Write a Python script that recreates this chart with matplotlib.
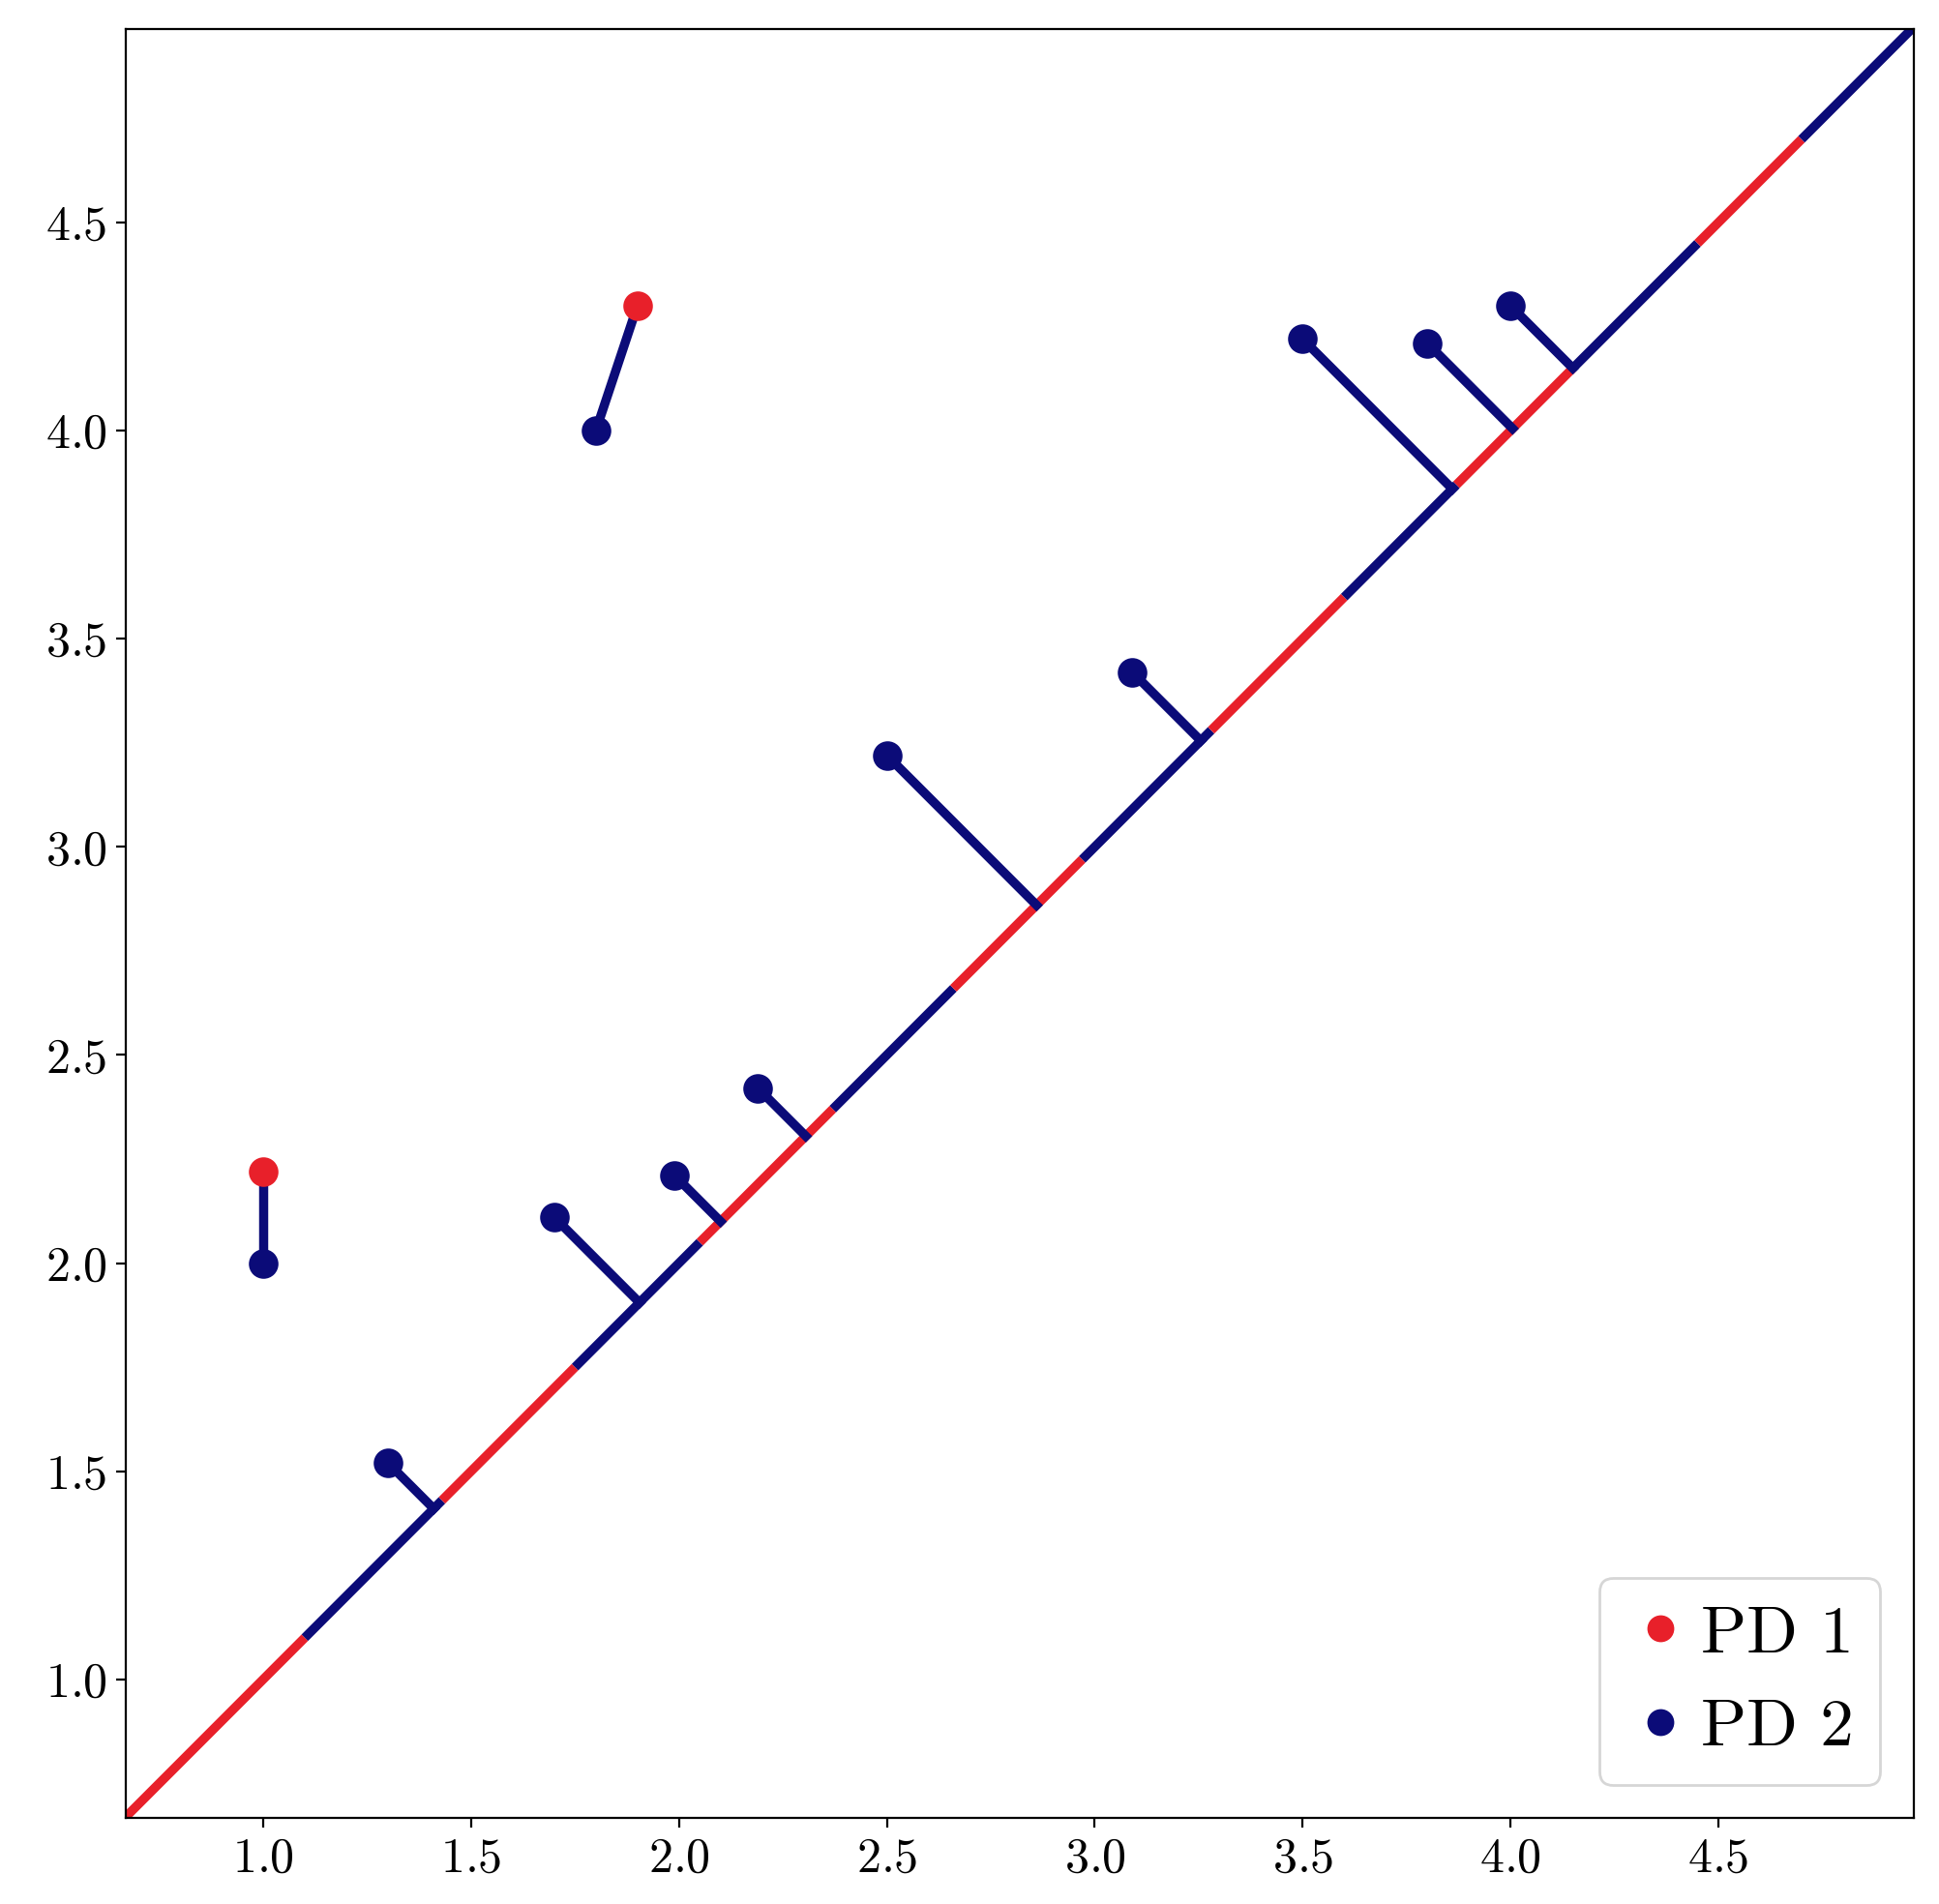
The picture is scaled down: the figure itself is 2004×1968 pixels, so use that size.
import numpy as np
import matplotlib.pyplot as plt

plt.rcParams['font.family'] = ['cmr10', 'DejaVu Serif']
plt.rcParams['axes.formatter.use_mathtext'] = True

# 持续图数据
pd1_x = [1.0, 1.9]
pd1_y = [2.22, 4.30]
pd2_x = [1.0, 1.8, 1.3, 1.7, 1.99, 2.19, 2.5, 3.09, 3.5, 3.8, 4.0]
pd2_y = [2.0, 4.0, 1.52, 2.11, 2.21, 2.42, 3.22, 3.42, 4.22, 4.21, 4.30]
# 匹配: PD2 点 -> PD1 点 (其余匹配到对角线)
match_pairs = {0: 0, 1: 1}
# 对角线上的颜色分段
diag_breaks = [0.67, 1.1, 1.43, 1.75, 2.05, 2.37, 2.66, 2.97, 3.28, 3.6, 3.87, 4.15, 4.45, 4.7, 4.97]

red = '#e8202a'
blue = '#0b0b78'

fig = plt.figure(figsize=(10.02, 9.84), dpi=200)
ax = fig.add_axes([0.065, 0.045, 0.922, 0.94])

for i in range(len(diag_breaks) - 1):
    c = red if i % 2 == 0 else blue
    ax.plot([diag_breaks[i], diag_breaks[i + 1]], [diag_breaks[i], diag_breaks[i + 1]],
            color=c, lw=3.4, solid_capstyle='butt', zorder=1)

for i, (x, y) in enumerate(zip(pd2_x, pd2_y)):
    if i in match_pairs:
        j = match_pairs[i]
        ax.plot([x, pd1_x[j]], [y, pd1_y[j]], color=blue, lw=3.4, zorder=2)
    else:
        m = (x + y) / 2
        ax.plot([x, m], [y, m], color=blue, lw=3.4, zorder=2)

ax.plot(pd1_x, pd1_y, 'o', color=red, ms=10, label='PD 1', zorder=3)
ax.plot(pd2_x, pd2_y, 'o', color=blue, ms=10, label='PD 2', zorder=3)

ax.set_xlim(0.67, 4.97)
ax.set_ylim(0.666, 4.966)
ax.set_xticks(np.arange(1.0, 4.6, 0.5))
ax.set_yticks(np.arange(1.0, 4.6, 0.5))
ax.tick_params(labelsize=18)
ax.legend(loc='lower right', fontsize=25, handletextpad=0.1, handlelength=1.0,
          borderpad=0.4, markerscale=0.9)

plt.savefig('out.png', dpi=200)
